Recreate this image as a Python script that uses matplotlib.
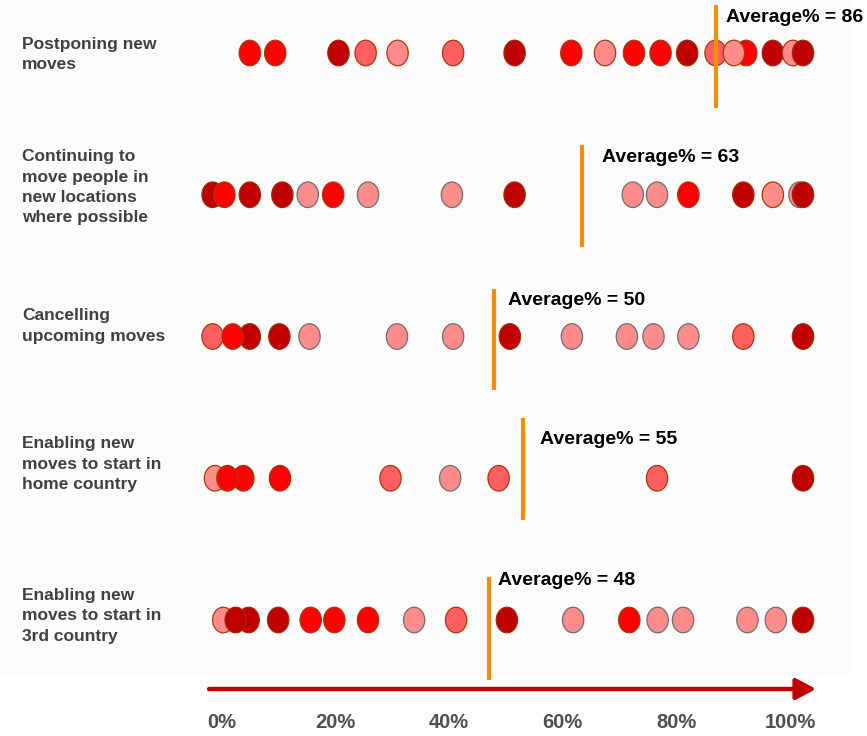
import numpy as np
import matplotlib
matplotlib.use("Agg")
import matplotlib.pyplot as plt
from matplotlib.path import Path
from matplotlib.patches import Rectangle

# ---------------- data ----------------
categories = [
    "Postponing new\nmoves",
    "Continuing to\nmove people in\nnew locations\nwhere possible",
    "Cancelling\nupcoming moves",
    "Enabling new\nmoves to start in\nhome country",
    "Enabling new\nmoves to start in\n3rd country",
]

# values in %, listed in drawing order; group codes: R bright red, D dark red,
# M medium red, P pink (grey edge), Q pink (brown edge)
row1_values = [6.4, 10.7, 21.4, 26.0, 31.4, 40.8, 51.2, 60.8, 66.5, 71.4, 75.9, 80.4, 85.2, 90.4, 88.3, 94.9, 98.3, 100]
row1_groups = list("RRDMQMDRQRRDMRQDQD")

row2_values = [0.1, 2.1, 6.4, 11.9, 16.2, 20.5, 26.4, 40.6, 51.2, 71.2, 75.3, 80.6, 89.9, 94.9, 99.4, 100]
row2_groups = list("DRDDPRPPDPPRDQPD")

row3_values = [0.1, 6.4, 3.5, 11.4, 16.5, 31.3, 40.8, 50.4, 60.9, 70.2, 74.7, 80.6, 89.9, 100]
row3_groups = list("MDRDPPPDPPPPMD")

row4_values = [0.5, 5.3, 2.6, 11.5, 30.2, 40.3, 48.5, 75.3, 100]
row4_groups = list("QRRRMPMMD")

row5_values = [1.9, 6.2, 4.0, 11.2, 16.7, 20.7, 26.4, 34.2, 41.3, 49.9, 61.1, 70.6, 75.4, 79.7, 90.6, 95.4, 100]
row5_groups = list("QDDDRRRPMDPRPPPPD")

avg_labels = [86, 63, 50, 55, 48]          # value printed in the label
avg_marks = [85.2, 62.6, 47.7, 52.6, 46.9]  # where the orange line is drawn

tick_values = [0, 20, 40, 60, 80, 100]
tick_labels = ["0%", "20%", "40%", "60%", "80%", "100%"]

rows_values = [row1_values, row2_values, row3_values, row4_values, row5_values]
rows_groups = [row1_groups, row2_groups, row3_groups, row4_groups, row5_groups]

# ---------------- styles / layout ----------------
FACE = {"R": "#FF0000", "D": "#C00000", "M": "#FF5F5F", "P": "#FF8B8B", "Q": "#FF8B8B"}
EDGE = {"R": "#A8380E", "D": "#A02A0A", "M": "#A8380E", "P": "#6E6E6E", "Q": "#A8380E"}

W, H, DPI = 867, 736, 100
X0, PX = 212.0, 5.91        # px of 0 %, px per %
Y0, RY = 53.0, 141.75       # px of first row centre, px per row

def dy(px):
    return px / RY

LINE_SPAN = [(-48, 55), (-50, 52), (-47, 54), (-60, 42), (-43, 60)]
TEXT_DX = [10, 20, 14, 17, 9]
TEXT_DY = [-35, -37, -36, -39, -39]
LABEL_DY = [1.5, -7.5, -10.5, -14, -4]

plt.rcParams["font.family"] = ["Liberation Sans", "DejaVu Sans"]

fig = plt.figure(figsize=(W / DPI, H / DPI), dpi=DPI)
fig.patch.set_facecolor("white")
fig.patches.append(Rectangle((0, 1 - 677 / H), 850 / W, 677 / H, transform=fig.transFigure,
                             facecolor="#FCFCFC", edgecolor="none", zorder=-10))

ax = fig.add_axes([0, 0, 1, 1])
ax.set_facecolor("none")
ax.set_xlim(-X0 / PX, (W - X0) / PX)
ax.set_ylim((H - Y0) / RY, -Y0 / RY)
for s in ax.spines.values():
    s.set_visible(False)
ax.set_xticks([])
ax.set_yticks([])

# ellipse marker
t = np.linspace(0, 2 * np.pi, 80)
ell = Path(np.column_stack([np.cos(t), 1.2 * np.sin(t)]), closed=True)

for i, (vals, grps) in enumerate(zip(rows_values, rows_groups)):
    ax.scatter(vals, [i] * len(vals), marker=ell, s=18.4 ** 2,
               c=[FACE[g] for g in grps], edgecolors=[EDGE[g] for g in grps],
               linewidths=0.9, zorder=3, clip_on=False)
    top, bot = LINE_SPAN[i]
    ax.plot([avg_marks[i], avg_marks[i]], [i + dy(top), i + dy(bot)],
            color="#F0900A", lw=3.0, solid_capstyle="butt", zorder=4, clip_on=False)
    ax.text(avg_marks[i] + TEXT_DX[i] / PX, i + dy(TEXT_DY[i]),
            f"Average% = {avg_labels[i]}", ha="left", va="center",
            fontsize=14, fontweight="bold", color="black", zorder=5)
    ax.text(-(X0 - 22) / PX, i + dy(LABEL_DY[i]), categories[i], ha="left", va="center",
            fontsize=12.5, fontweight="bold", color="#404040", linespacing=1.45)

# arrow axis
ya = dy(689 - Y0)
ax.annotate("", xy=(102.2, ya), xytext=(-0.5, ya),
            arrowprops=dict(arrowstyle="-|>,head_length=0.6,head_width=0.32",
                            color="#C00000", lw=3.2, shrinkA=0, shrinkB=0,
                            mutation_scale=20))

# tick labels on a secondary scale
L0, LP = 222.0, 5.68
sec = ax.secondary_xaxis(1 - 710 / H,
                         functions=(lambda p: (X0 + PX * np.asarray(p) - L0) / LP,
                                    lambda s: (L0 + LP * np.asarray(s) - X0) / PX))
sec.set_xticks(tick_values)
sec.set_xticklabels(tick_labels)
sec.tick_params(axis="x", length=0, pad=2, labelsize=14.5, labelcolor="#505050")
for lab in sec.get_xticklabels():
    lab.set_fontweight("bold")
for s in sec.spines.values():
    s.set_visible(False)

fig.savefig("out.png", dpi=DPI, facecolor="white")
